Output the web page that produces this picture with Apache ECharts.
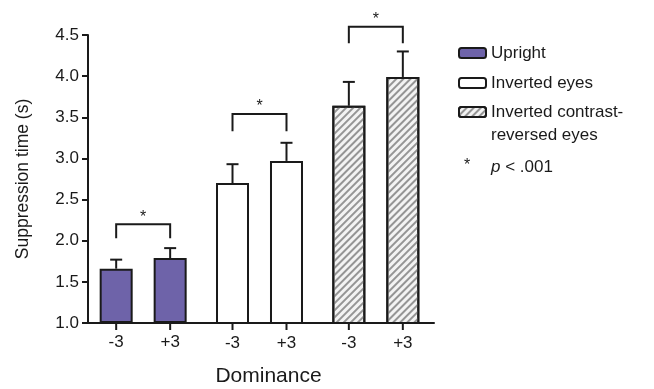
<!DOCTYPE html>
<html><head><meta charset="utf-8">
<script src="https://cdn.jsdelivr.net/npm/echarts@6/dist/echarts.min.js"></script>
<style>html,body{margin:0;padding:0;background:#fff}#c{width:654px;height:389px}</style>
</head><body><div id="c"></div>
<script>
// ---- data ----
const groups = ['Upright', 'Inverted eyes', 'Inverted contrast-reversed eyes'];
const dominance = ['-3', '+3'];
const meansMinus3 = [1.66, 2.70, 3.64];
const meansPlus3 = [1.79, 2.97, 3.99];
const semMinus3 = [0.11, 0.23, 0.29];
const semPlus3 = [0.12, 0.22, 0.31];
const bracketTop = [2.20, 3.54, 4.60];
const bracketLeg = [2.03, 3.33, 4.40];
const sigLabel = 'p < .001';
const yMin = 1.0, yMax = 4.5, yStep = 0.5;

// ---- styles ----
const FONT = 'Liberation Sans';
const INK = '#1a1a1a';
const BAR_W = 33, BAR_GAP = '63.6%';
const barStyles = [
  {color: '#6E63A9', borderColor: INK, borderWidth: 2},
  {color: '#ffffff', borderColor: INK, borderWidth: 2},
  {color: '#f3f3f3', borderColor: INK, borderWidth: 2,
   decal: {symbol: 'rect', symbolSize: 1, color: '#959595', dashArrayX: [1, 0], dashArrayY: [2, 3], rotation: -Math.PI / 4}}
];

const means = [meansMinus3, meansPlus3];
const sems = [semMinus3, semPlus3];

const series = [];
groups.forEach((gName, g) => {
  dominance.forEach((dName, d) => {
    series.push({
      type: 'bar', name: gName, stack: 'dom' + d,
      barWidth: BAR_W, barGap: BAR_GAP,
      itemStyle: barStyles[g],
      label: {show: true, position: 'bottom', distance: 11, formatter: dName,
              color: INK, fontSize: 17, fontFamily: FONT},
      emphasis: {disabled: true},
      data: groups.map((_, k) => k === g ? means[d][g] : '-')
    });
  });
});

// error bars + axis ticks under each bar
const errData = [];
groups.forEach((_, g) => dominance.forEach((_, d) => errData.push([g, means[d][g], sems[d][g], d])));
series.push({
  type: 'custom', name: 'err', clip: false, z: 5,
  encode: {x: 0, y: 1},
  data: errData,
  renderItem: function (params, api) {
    const g = api.value(0), v = api.value(1), e = api.value(2), d = api.value(3);
    const lay = api.barLayout({count: 2, barWidth: BAR_W, barGap: BAR_GAP});
    const base = api.coord([g, v]);
    const x = base[0] + lay[d].offsetCenter;
    const yTop = api.coord([g, v + e])[1];
    const yAxis0 = api.coord([g, yMin])[1];
    const st = {stroke: INK, lineWidth: 2};
    return {type: 'group', children: [
      {type: 'line', shape: {x1: x, y1: base[1], x2: x, y2: yTop}, style: st},
      {type: 'line', shape: {x1: x - 6, y1: yTop, x2: x + 6, y2: yTop}, style: st},
      {type: 'line', shape: {x1: x, y1: yAxis0, x2: x, y2: yAxis0 + 7}, style: st}
    ]};
  }
});

// significance brackets
series.push({
  type: 'custom', name: sigLabel, clip: false, z: 5,
  encode: {x: 0, y: 1},
  data: groups.map((_, g) => [g, bracketTop[g], bracketLeg[g]]),
  renderItem: function (params, api) {
    const g = api.value(0), top = api.value(1), leg = api.value(2);
    const lay = api.barLayout({count: 2, barWidth: BAR_W, barGap: BAR_GAP});
    const c = api.coord([g, top]);
    const yLeg = api.coord([g, leg])[1];
    const xl = c[0] + lay[0].offsetCenter, xr = c[0] + lay[1].offsetCenter;
    return {type: 'group', children: [
      {type: 'polyline', shape: {points: [[xl, yLeg], [xl, c[1]], [xr, c[1]], [xr, yLeg]]},
       style: {stroke: INK, lineWidth: 2, fill: null}},
      {type: 'text', x: (xl + xr) / 2, y: c[1] - 7,
       style: {text: '*', fill: INK, font: '16px ' + FONT, align: 'center', verticalAlign: 'middle'}}
    ]};
  }
});

const chart = echarts.init(document.getElementById('c'), null, {renderer: 'canvas'});
chart.setOption({
  backgroundColor: '#ffffff',
  animation: false,
  grid: {left: 85, right: 220, top: 35, bottom: 66, containLabel: false, outerBoundsMode: 'none'},
  xAxis: {
    type: 'category', data: groups,
    axisLine: {lineStyle: {color: INK, width: 2}},
    axisTick: {show: false}, axisLabel: {show: false},
    name: 'Dominance', nameLocation: 'middle', nameGap: 43,
    nameTextStyle: {fontSize: 21, color: INK, fontFamily: FONT, padding: [0, 0, 0, 18]}
  },
  yAxis: {
    type: 'value', min: yMin, max: yMax, interval: yStep, startValue: yMin, offset: -3,
    axisLine: {show: true, lineStyle: {color: INK, width: 2}},
    axisTick: {show: true, length: 6, lineStyle: {color: INK, width: 2}},
    axisLabel: {margin: 9, fontSize: 17, color: INK, fontFamily: FONT, formatter: v => v.toFixed(1)},
    splitLine: {show: false},
    name: 'Suppression time (s)', nameLocation: 'middle', nameGap: 56,
    nameTextStyle: {fontSize: 17.5, color: INK, fontFamily: FONT}
  },
  legend: {
    orient: 'vertical', left: 453, top: 12.5, padding: 5,
    itemWidth: 27, itemHeight: 10, itemGap: -41, selectedMode: false,
    textStyle: {fontSize: 17, color: INK, fontFamily: FONT, lineHeight: 23},
    formatter: function (name) {
      if (name === groups[2]) return '\nInverted contrast-\nreversed eyes';
      if (name === sigLabel) return '{i|p} < .001';
      return name;
    },
    data: [
      {name: groups[0], textStyle: {padding: [24, 0, 24, 0]}},
      {name: groups[1], textStyle: {padding: [24, 0, 24, 0]}},
      {name: groups[2]},
      {name: sigLabel, icon: 'none', textStyle: {padding: [50, 0, 50, 0],
        rich: {i: {fontStyle: 'italic', fontSize: 17, fontFamily: FONT, color: INK, lineHeight: 23}}}}
    ]
  },
  graphic: [{
    type: 'text', left: 464, top: 158,
    style: {text: '*', fill: INK, font: '16px ' + FONT}
  }],
  series: series
});
</script>
</body></html>
